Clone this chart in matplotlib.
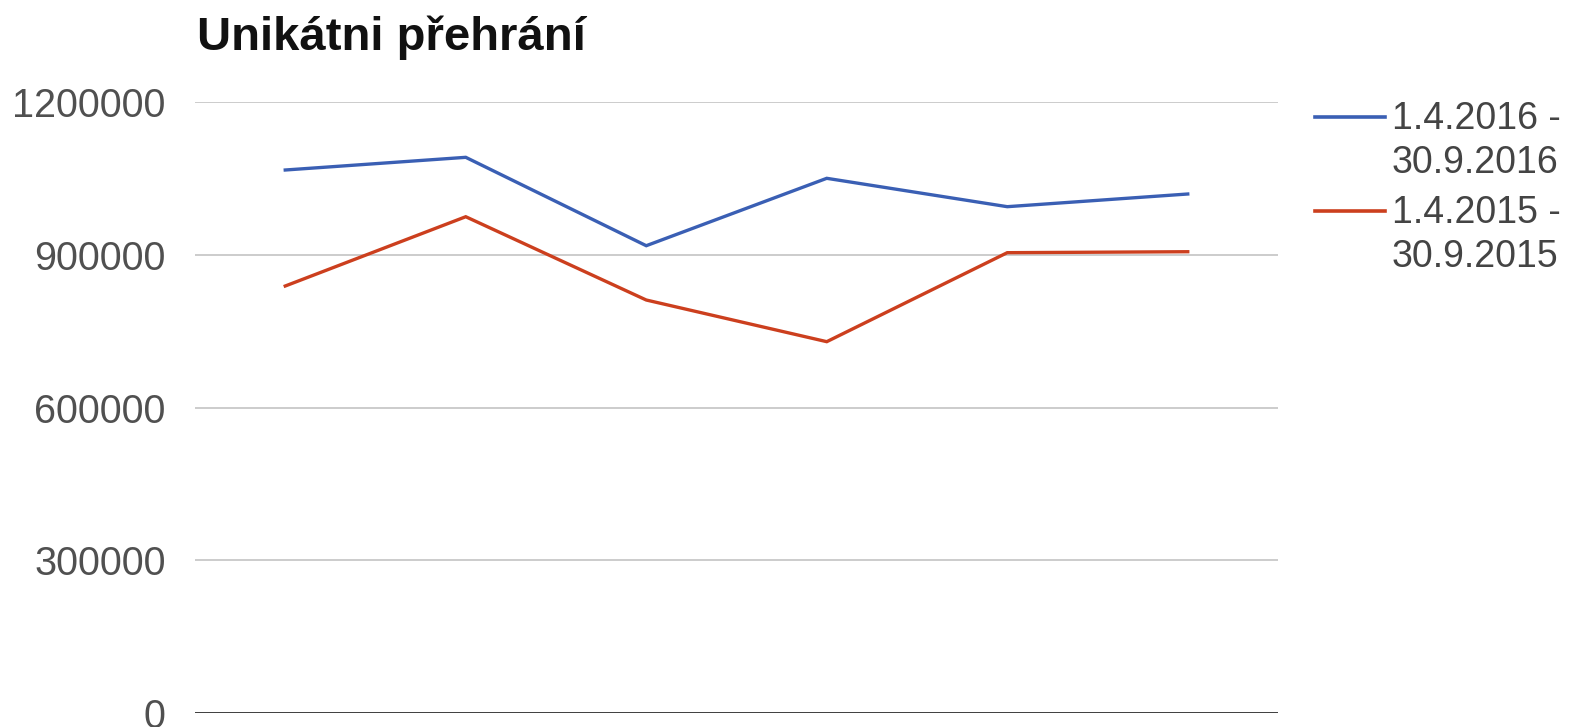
import matplotlib.pyplot as plt
from matplotlib.lines import Line2D

# unique plays per month, two comparison periods
periods = ["1.4.2016 -\n30.9.2016", "1.4.2015 -\n30.9.2015"]
plays_2016 = [1066500, 1091400, 917900, 1050200, 994500, 1019400]
plays_2015 = [838800, 974800, 811300, 729500, 904200, 906100]
colors = ["#3a5fb4", "#cc3f1e"]
yticks = [0, 300000, 600000, 900000, 1200000]

plt.rcParams['font.family'] = ['Liberation Sans', 'DejaVu Sans']

fig = plt.figure(figsize=(15.70, 7.27), dpi=100)
ax = fig.add_axes([195 / 1570, 1 - 713.3 / 727, (1278 - 195) / 1570, (713.3 - 102) / 727])

xs = range(len(plays_2016))
for vals, c in zip([plays_2016, plays_2015], colors):
    ax.plot(xs, vals, color=c, lw=2.4, solid_joinstyle='miter', clip_on=False, zorder=3)

ax.set_xlim(-0.5, len(plays_2016) - 0.5)
ax.set_ylim(0, 1200000)
ax.set_yticks(yticks)
ax.set_yticklabels([str(v) for v in yticks])
ax.set_xticks([])
ax.tick_params(axis='y', length=0, pad=21, labelsize=28.5, labelcolor='#505050')
for s in ax.spines.values():
    s.set_visible(False)
ax.grid(axis='y', color='#cccccc', lw=1.4)
ax.axhline(0, color='#333333', lw=2, zorder=2)

fig.text(197 / 1570, 1 - 38 / 727, "Unikátni přehrání", fontsize=34, fontweight='bold',
         color='#111111', va='center', ha='left')

# legend on the right, line aligned with first text row
rows = [117, 211]
for lab, c, y in zip(periods, colors, rows):
    fy = 1 - y / 727
    fig.add_artist(Line2D([1315 / 1570, 1385 / 1570], [fy, fy], color=c, lw=2.6,
                          transform=fig.transFigure))
    fig.text(1392 / 1570, fy + 16 / 727, lab, fontsize=27, color='#444444',
             va='top', ha='left', linespacing=1.3)

fig.savefig("out.png", dpi=100)
